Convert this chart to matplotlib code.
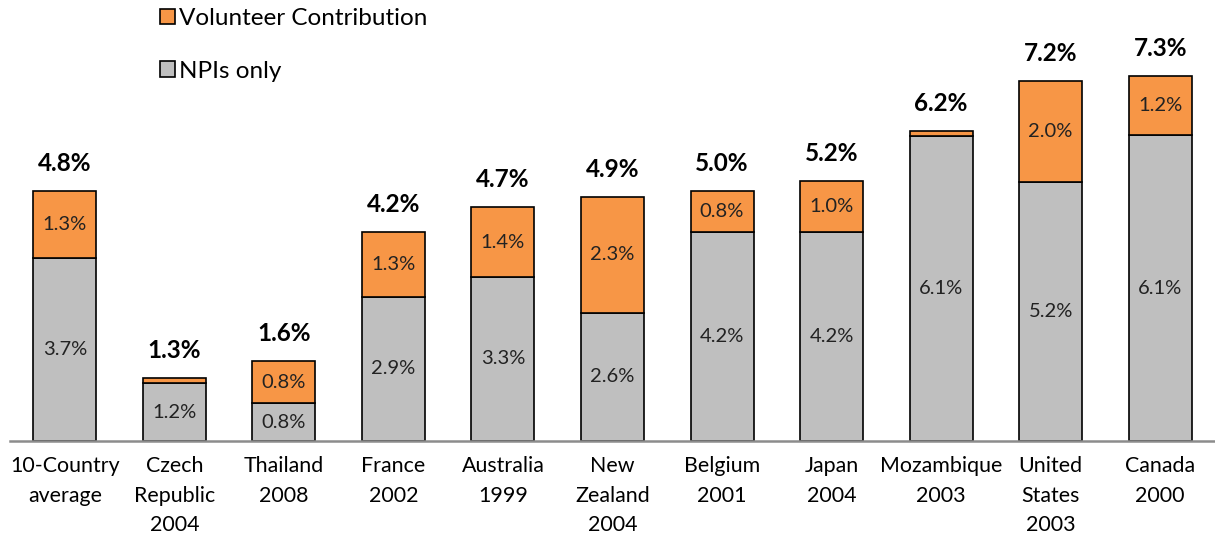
import matplotlib
matplotlib.use("Agg")
import matplotlib.pyplot as plt
import numpy as np

plt.rcParams["font.family"] = ["Lato", "DejaVu Sans"]

# =====================================================
# DATA
# =====================================================
categories = [
    "10-Country\naverage", "Czech\nRepublic\n2004", "Thailand\n2008",
    "France\n2002", "Australia\n1999", "New\nZealand\n2004",
    "Belgium\n2001", "Japan\n2004", "Mozambique\n2003",
    "United\nStates\n2003", "Canada\n2000",
]
npi_only = [3.66, 1.16, 0.76, 2.88, 3.28, 2.56, 4.18, 4.18, 6.1, 5.18, 6.12]
volunteer = [1.34, 0.10, 0.84, 1.30, 1.40, 2.32, 0.82, 1.02, 0.10, 2.02, 1.18]
npi_labels = ["3.7%", "1.2%", "0.8%", "2.9%", "3.3%", "2.6%",
              "4.2%", "4.2%", "6.1%", "5.2%", "6.1%"]
vol_labels = ["1.3%", "", "0.8%", "1.3%", "1.4%", "2.3%",
              "0.8%", "1.0%", "", "2.0%", "1.2%"]
total_labels = ["4.8%", "1.3%", "1.6%", "4.2%", "4.7%", "4.9%",
                "5.0%", "5.2%", "6.2%", "7.2%", "7.3%"]

ORANGE = "#F79646"
GREY = "#BFBFBF"

# =====================================================
# FIGURE
# =====================================================
fig = plt.figure(figsize=(12.15, 5.37), dpi=100)
ax = fig.add_axes([10 / 1215, 96 / 537, 1205 / 1215, 441 / 537])

x = np.arange(len(categories))
width = 0.575

b1 = ax.bar(x, npi_only, width, color=GREY, edgecolor="black",
            linewidth=1.2, label="NPIs only", zorder=2)
b2 = ax.bar(x, volunteer, width, bottom=npi_only, color=ORANGE,
            edgecolor="black", linewidth=1.2,
            label="Volunteer Contribution", zorder=2)

# segment labels
for i in range(len(x)):
    ax.text(x[i], npi_only[i] / 2, npi_labels[i], ha="center",
            va="center", fontsize=14.5, color="#222222")
    if vol_labels[i]:
        ax.text(x[i], npi_only[i] + volunteer[i] / 2, vol_labels[i],
                ha="center", va="center", fontsize=14.5, color="#222222")
    top = npi_only[i] + volunteer[i]
    ax.annotate(total_labels[i], (x[i], top), xytext=(0, 20),
                textcoords="offset points", ha="center", va="center",
                fontsize=17.5, fontweight="bold")

ax.set_xlim(-0.5, len(x) - 0.5)
ax.set_ylim(0, 441 / 50)

for s in ["top", "right", "left"]:
    ax.spines[s].set_visible(False)
ax.spines["bottom"].set_color("#8C8C8C")
ax.spines["bottom"].set_linewidth(1.8)
ax.spines["bottom"].set_zorder(3)
ax.set_yticks([])
ax.set_xticks(x)
ax.set_xticklabels(categories, fontsize=15.4, linespacing=1.6)
ax.tick_params(axis="x", length=0, pad=11)

fig.legend([b2, b1], ["Volunteer Contribution", "NPIs only"],
           loc="upper left", bbox_to_anchor=(143 / 1215, 1 + 9 / 537),
           frameon=False, fontsize=17.5, handlelength=0.6,
           handleheight=0.6, handletextpad=0.2, labelspacing=1.3,
           borderaxespad=0.3)

fig.savefig("out.png", dpi=100)
